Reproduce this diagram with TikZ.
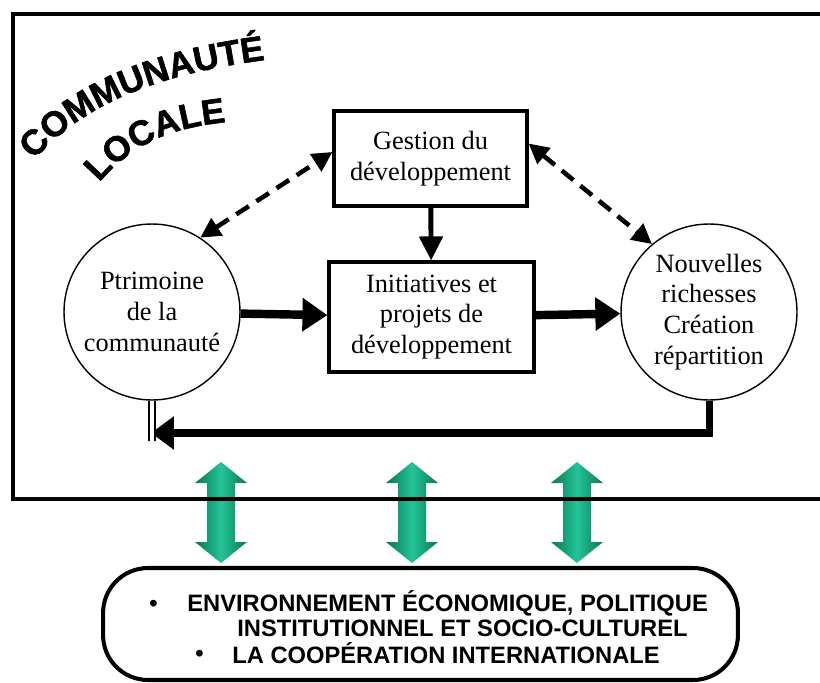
\documentclass[tikz,border=0pt]{standalone}
\usepackage{fontspec}
\setmainfont{Liberation Serif}
\setsansfont{Liberation Sans}
\newfontfamily\lourde[FakeBold=1.6]{Liberation Sans Bold}
\usetikzlibrary{arrows.meta, decorations.text, positioning}
\definecolor{vertfonce}{HTML}{0B7656}
\definecolor{vertclair}{HTML}{24C497}
\newcommand{\titrecomm}{\fontsize{20}{20}\selectfont\lourde}
\tikzset{
  % cadre d'un bloc
  bloc/.style={draw=black, line width=1.8pt, align=center, fill=white,
    font=\fontsize{15}{17.5}\selectfont},
  % cercle d'une ressource
  rond/.style={circle, draw=black, line width=0.8pt, minimum size=3.52cm, inner sep=0pt,
    align=center, font=\fontsize{15}{17.5}\selectfont},
  % fleches
  lien/.style={line width=2.8pt, -{Triangle[length=4.8mm, width=4.6mm]}},
  lien gras/.style={line width=4.8pt, -{Triangle[length=5mm, width=6.4mm]}},
  lien double/.style={line width=2.6pt, dash pattern=on 3mm off 1.8mm,
    {Triangle[length=4mm, width=4mm]}-{Triangle[length=4mm, width=4mm]}},
  retour/.style={line width=4pt, -{Triangle[length=4.6mm, width=6.4mm]}},
  % grande fleche verte
  echange/.style={left color=vertfonce, right color=vertfonce, middle color=vertclair},
  % texte de l'environnement
  envtxt/.style={font=\fontsize{13.5}{15}\selectfont\bfseries\sffamily, anchor=west, inner sep=0pt},
}
\begin{document}
\begin{tikzpicture}[x=0.02cm, y=-0.02cm]
  \useasboundingbox (0,0) rectangle (820,682);
  % fleches vertes
  \foreach \x in {221, 412, 577} {
    \shade[echange] (\x,462) -- ({\x+26},483) -- ({\x+14},483) -- ({\x+14},542) -- ({\x+26},542)
      -- (\x,563) -- ({\x-26},542) -- ({\x-14},542) -- ({\x-14},483) -- ({\x-26},483) -- cycle;
  }
  % communaute locale
  \draw[line width=2.8pt] (13,14) rectangle (845,499);
  \path[decorate, decoration={text along path, text={|\titrecomm|COMMUNAUTÉ}, text align={align=center}}]
    (34,160) .. controls (80,108) and (150,75) .. (265,60);
  \path[decorate, decoration={text along path, text={|\titrecomm|LOCALE}, text align={align=center}}]
    (98,184) .. controls (128,148) and (165,128) .. (228,122);
  \node[bloc, minimum width=3.86cm, minimum height=1.9cm] (gest) at (430.5,158.5) {Gestion du\\développement};
  \node[bloc, minimum width=4.1cm, minimum height=2.2cm] (init) at (431.5,317) {Initiatives et\\projets de\\développement};
  \node[rond] (pat) at (152,312) {Ptrimoine\\de la\\communauté};
  \node[rond] (nouv) at (709,312) {Nouvelles\\richesses\\Création\\répartition};
  \draw[lien] (gest) -- (init);
  \draw[lien gras] (pat) -- (init);
  \draw[lien gras] (init) -- (nouv);
  \draw[lien double] (pat.57) -- ([yshift=0.13cm]gest.west);
  \draw[lien double] ([yshift=0.3cm]gest.east) -- (nouv.130);
  % boucle de retour
  \coordinate (coin) at (151,433);
  \coordinate (pied) at (152,441);
  \draw[retour] (nouv.south) |- (coin);
  \draw[line width=1.3pt, double, double distance=2.4pt] (pat.south) -- (pied);
  % environnement
  \node[draw, line width=2.3pt, rounded corners=0.9cm, minimum width=12.7cm, minimum height=2.24cm] (env) at (420.5,624) {};
  \node[envtxt] (b1) at (149,606) {•};
  \node[envtxt] (e1) at (187,603) {ENVIRONNEMENT ÉCONOMIQUE, POLITIQUE};
  \node[envtxt] (e2) at (237,628) {INSTITUTIONNEL ET SOCIO-CULTUREL};
  \node[envtxt] (b2) at (195,656) {•};
  \node[envtxt] (e3) at (232,653) {LA COOPÉRATION INTERNATIONALE};
\end{tikzpicture}
\end{document}
